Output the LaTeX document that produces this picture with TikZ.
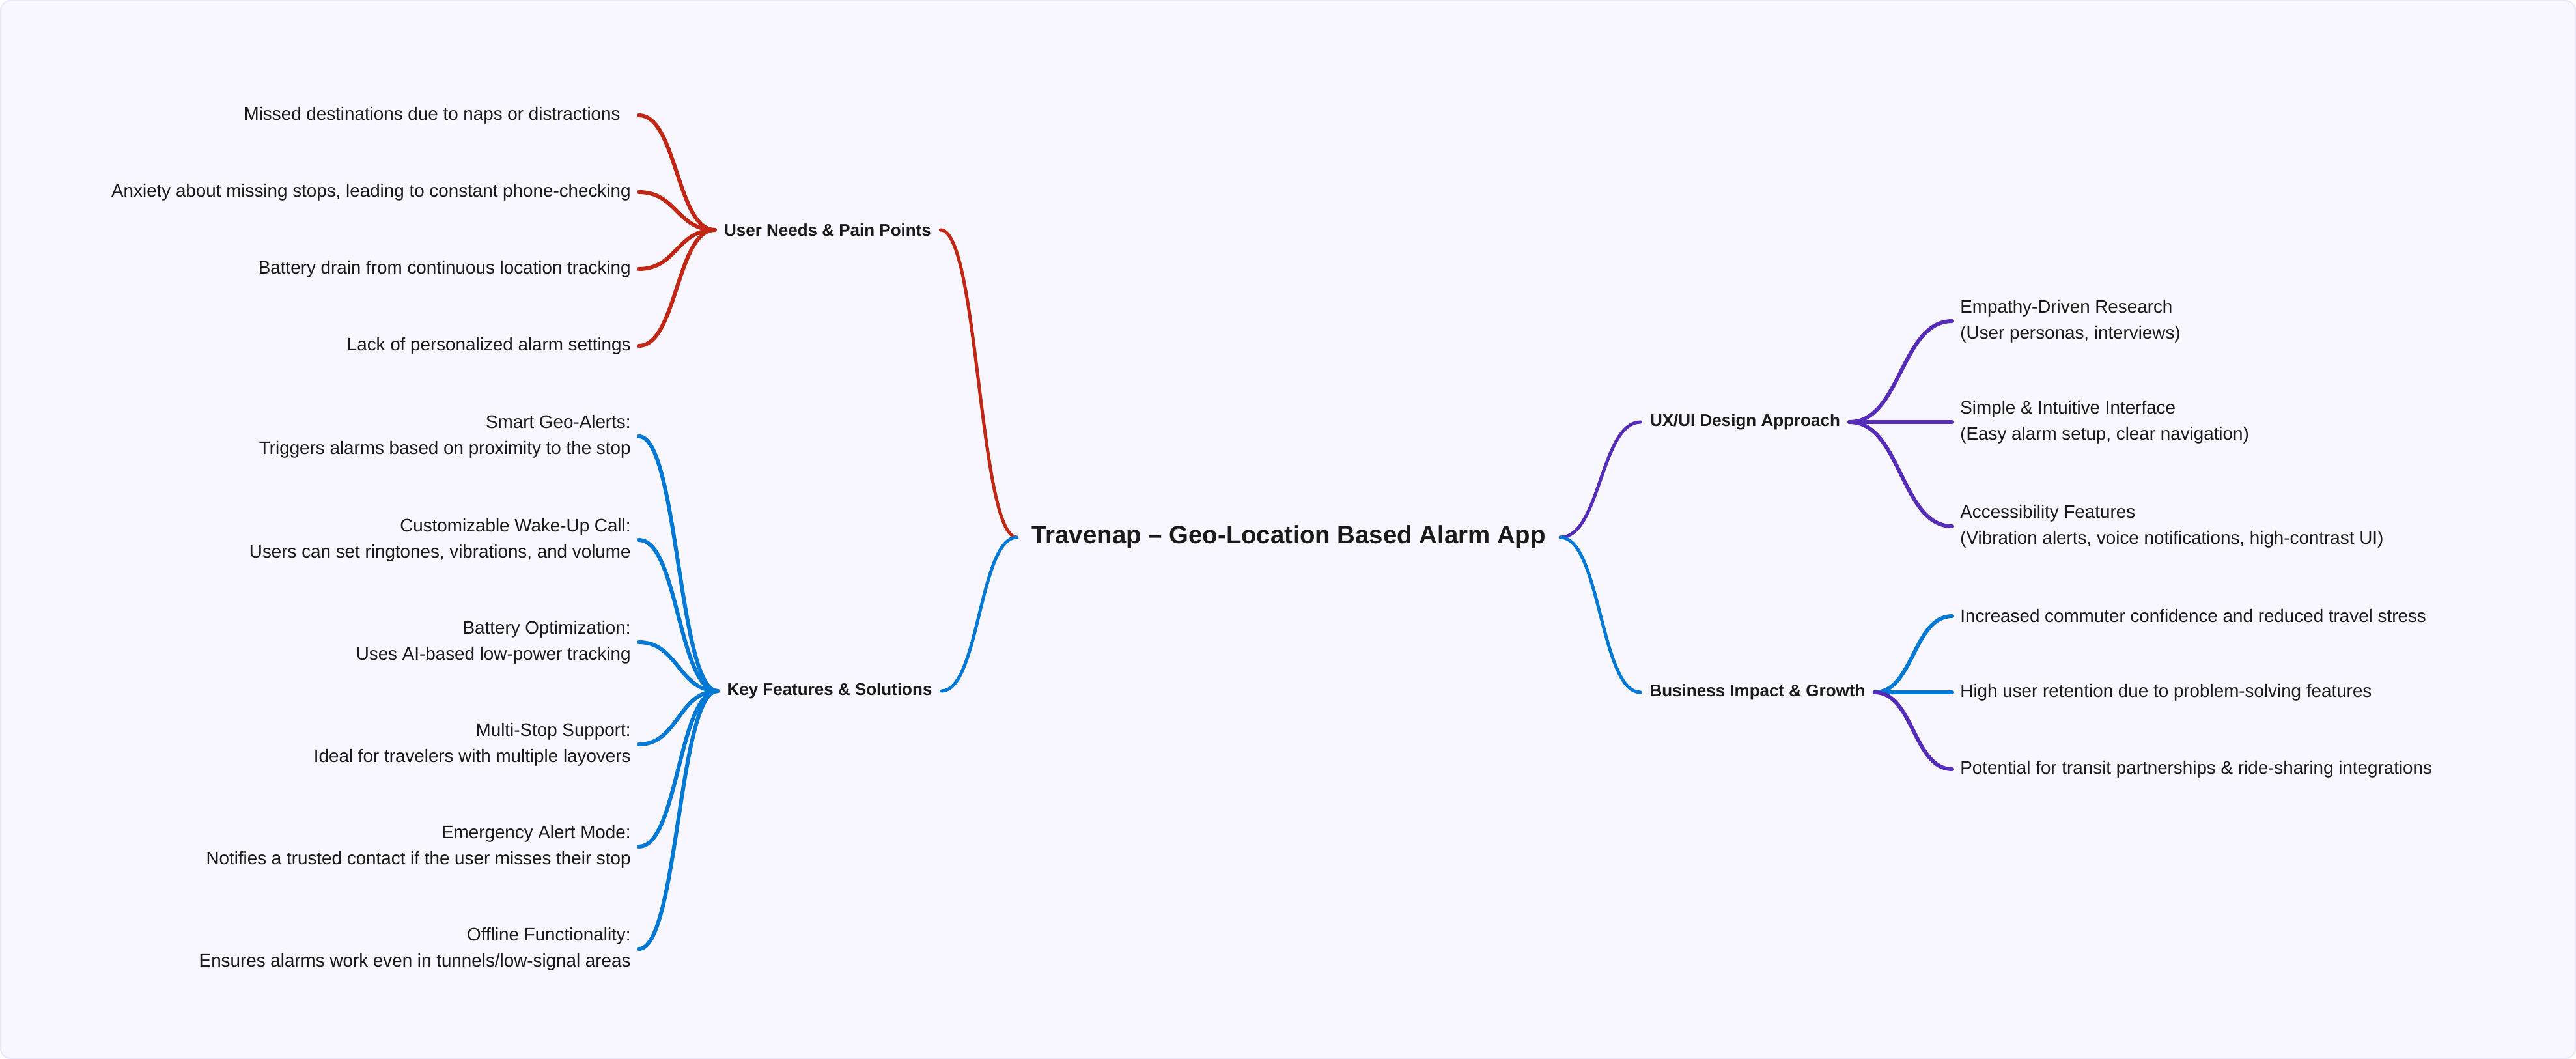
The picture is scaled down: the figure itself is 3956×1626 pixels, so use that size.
\documentclass[tikz,border=0pt]{standalone}
\usepackage{fontspec}
\setmainfont{Liberation Sans}
\usetikzlibrary{calc}
\definecolor{bgfill}{HTML}{F8F6FE}
\definecolor{bgline}{HTML}{ECE6FA}
\definecolor{painred}{HTML}{C02714}
\definecolor{featblue}{HTML}{0078D4}
\definecolor{uxpurple}{HTML}{542CB8}
\definecolor{inktext}{HTML}{1A1A1A}
\tikzset{
    leaf/.style={inner xsep=6pt, inner ysep=0pt, text=inktext,
        font=\fontsize{13.9}{20}\selectfont},
    leafl/.style={leaf, anchor=east, align=right},
    leafr/.style={leaf, anchor=west, align=left},
    twoline/.style={yshift=-1.5pt},
    topic/.style={inner xsep=7pt, text=inktext,
        font=\fontsize{13}{16}\selectfont\bfseries},
    root/.style={inner xsep=11pt, text=inktext,
        font=\fontsize{19.2}{24}\selectfont\bfseries},
    branch/.style={line width=3pt, line cap=round,
        to path={let \p1=(\tikztostart), \p2=(\tikztotarget) in
            .. controls ({0.5*\x1+0.5*\x2},\y1) and ({0.5*\x1+0.5*\x2},\y2) .. (\tikztotarget)}},
    trunk/.style={branch, line width=2.5pt},
}
\begin{document}
\begin{tikzpicture}[x=0.5pt,y=-0.5pt]
        \useasboundingbox (0,0) rectangle (3956,1626);
        %% background card
        \draw[bgline, fill=bgfill, line width=1pt, rounded corners=7.5pt] (1,1) rectangle (3955,1625);
        %% root and topics
        \node[root] (app) at (1979,825) {Travenap -- Geo-Location Based Alarm App};
        \node[topic] (needs) at (1271,353) {User Needs \& Pain Points};
        \node[topic] (feat) at (1274,1061) {Key Features \& Solutions};
        \node[topic] (ux) at (2680,648) {UX/UI Design Approach};
        \node[topic] (biz) at (2699,1063) {Business Impact \& Growth};
        %% pain points
        \foreach \name/\ypos/\txt in {
            n1/177/{Missed destinations due to naps or distractions\hspace*{8pt}},
            n2/295/{Anxiety about missing stops, leading to constant phone-checking},
            n3/413/{Battery drain from continuous location tracking},
            n4/531/{Lack of personalized alarm settings}}
                \node[leafl] (\name) at (981,\ypos) {\txt};
        %% features
        \foreach \name/\ypos/\txt in {
            f1/667/{Smart Geo-Alerts:\\Triggers alarms based on proximity to the stop},
            f2/826/{Customizable Wake-Up Call:\\Users can set ringtones, vibrations, and volume},
            f3/983/{Battery Optimization:\\Uses AI-based low-power tracking},
            f4/1140/{Multi-Stop Support:\\Ideal for travelers with multiple layovers},
            f5/1297/{Emergency Alert Mode:\\Notifies a trusted contact if the user misses their stop},
            f6/1454/{Offline Functionality:\\Ensures alarms work even in tunnels/low-signal areas}}
                \node[leafl, twoline] (\name) at (981,\ypos) {\txt};
        %% design approach
        \foreach \name/\ypos/\txt in {
            u1/490/{Empathy-Driven Research\\(User personas, interviews)},
            u2/645/{Simple \& Intuitive Interface\\(Easy alarm setup, clear navigation)},
            u3/805/{Accessibility Features\\(Vibration alerts, voice notifications, high-contrast UI)}}
                \node[leafr, twoline] (\name) at (2998,\ypos) {\txt};
        %% business impact
        \foreach \name/\ypos/\txt in {
            b1/946/{Increased commuter confidence and reduced travel stress},
            b2/1063/{High user retention due to problem-solving features},
            b3/1181/{Potential for transit partnerships \& ride-sharing integrations}}
                \node[leafr] (\name) at (2998,\ypos) {\txt};
        %% trunks
        \draw[trunk, painred] (app.west) to (needs.east);
        \draw[trunk, featblue] (app.west) to (feat.east);
        \draw[trunk, uxpurple] (app.east) to (ux.west);
        \draw[trunk, featblue] (app.east) to (biz.west);
        %% branches
        \foreach \name in {n1,n2,n3,n4}
            \draw[branch, painred] (needs.west) to (\name.east);
        \foreach \name in {f1,f2,f3,f4,f5,f6}
            \draw[branch, featblue] (feat.west) to (\name.east);
        \foreach \name in {u1,u2,u3}
            \draw[branch, uxpurple] (ux.east) to (\name.west);
        \foreach \name/\col in {b1/featblue,b2/featblue,b3/uxpurple}
            \draw[branch, \col] (biz.east) to (\name.west);
    \end{tikzpicture}
\end{document}
